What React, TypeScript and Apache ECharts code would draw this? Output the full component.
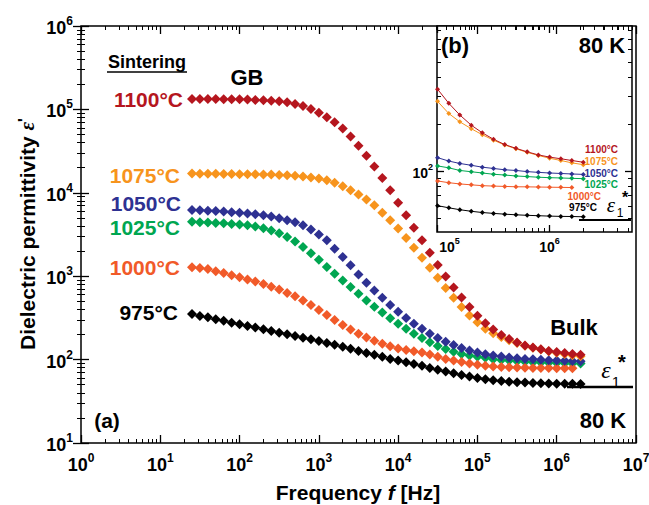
import React, { useEffect, useRef } from 'react';
import * as echarts from 'echarts';

// Frequencies (Hz), 10 points per decade
const freqHz = [
  25.1, 31.6, 39.8, 50.1, 63.1, 79.4,
  100, 126, 158, 200, 251, 316, 398, 501, 631, 794,
  1000, 1260, 1580, 2000, 2510, 3160, 3980, 5010, 6310, 7940,
  10000, 12600, 15800, 20000, 25100, 31600, 39800, 50100, 63100, 79400,
  100000, 126000, 158000, 200000, 251000, 316000, 398000, 501000, 631000, 794000,
  1000000, 1260000, 1580000, 2000000,
];

const eps1100 = [
  133000, 133000, 133000, 133000, 132000, 132000, 132000, 131000, 130000, 129000,
  127000, 125000, 122000, 116000, 110000, 101000, 91200, 80400, 70000, 58900,
  47300, 36700, 27900, 20700, 15000, 10700, 7590, 5370, 3800, 2690,
  1910, 1360, 989, 733, 556, 427, 335, 272, 229, 197,
  176, 160, 148, 140, 133, 127, 123, 120, 117, 114,
];
const eps1075 = [
  17000, 16900, 16900, 16900, 16800, 16800, 16700, 16700, 16700, 16600,
  16600, 16400, 16200, 16000, 15700, 15300, 14800, 14100, 13200, 12000,
  10700, 9550, 8320, 7080, 5750, 4680, 3720, 2880, 2190, 1660,
  1260, 955, 724, 550, 427, 339, 280, 234, 207, 187,
  171, 158, 147, 139, 132, 126, 121, 117, 113, 110,
];
const eps1050 = [
  6240, 6170, 6100, 6030, 5960, 5860, 5750, 5650, 5520, 5370,
  5190, 4950, 4700, 4420, 4070, 3630, 3160, 2690, 2140, 1700,
  1350, 1050, 832, 676, 550, 452, 376, 316, 269, 234,
  204, 182, 164, 150, 138, 129, 122, 116, 112, 109,
  106, 104, 102, 101, 99.3, 98.2, 97.3, 96.6, 95.9, 95.3,
];
const eps1025 = [
  4500, 4450, 4400, 4350, 4300, 4240, 4170, 4070, 3940, 3760,
  3530, 3270, 2950, 2600, 2240, 1880, 1570, 1290, 1070, 891,
  741, 617, 513, 431, 367, 313, 269, 234, 204, 182,
  162, 146, 134, 124, 117, 112, 108, 105, 101, 99.1,
  97.3, 95.5, 94.4, 93.1, 92.3, 91.4, 90.8, 90.4, 89.9, 89.5,
];
const eps1000 = [
  1280, 1250, 1220, 1150, 1090, 1030, 973, 916, 861, 804,
  748, 692, 631, 575, 513, 452, 394, 343, 299, 260,
  229, 204, 184, 168, 155, 145, 136, 130, 126, 122,
  115, 108, 102, 97.7, 93.3, 89.5, 86.5, 84.3, 82.8, 81.7,
  80.7, 80.2, 79.8, 79.4, 79.3, 79.1, 78.9, 78.7, 78.5,
];
const eps975 = [
  352, 333, 321, 304, 292, 277, 265, 253, 242, 231,
  220, 210, 201, 192, 183, 175, 167, 158, 151, 143,
  135, 127, 120, 114, 108, 102, 97.3, 92.7, 88.3, 84.3,
  79.4, 75.5, 71.8, 68.4, 65.3, 62.5, 60.1, 58.2, 56.6, 55.3,
  54.3, 53.6, 53.0, 52.5, 52.1, 51.8, 51.5, 51.3, 51.2, 51.0,
];

const sinteringLabels = ['1100°C', '1075°C', '1050°C', '1025°C', '1000°C', '975°C'];
const sinteringColors = ['#B5161E', '#F7941D', '#2E3192', '#00A651', '#F15A29', '#000000'];
const sinteringValues = [eps1100, eps1075, eps1050, eps1025, eps1000, eps975];
// draw order (last on top)
const drawOrder = [5, 3, 4, 2, 1, 0];

const mainXDecades = [0, 1, 2, 3, 4, 5, 6, 7];
const mainYDecades = [1, 2, 3, 4, 5, 6];
const insetXDecades = [5, 6];
const insetYDecades = [2];
const minorMultipliers = [2, 3, 4, 5, 6, 7, 8, 9];
const insetStartIndex = 36; // 1e5 Hz

const SANS = '"Liberation Sans", Arial, Helvetica, sans-serif';
const SERIF = '"Liberation Serif", "DejaVu Serif", serif';

const lg = (v: number) => Math.log10(v);

function minorTicks(decades: number[], lo: number, hi: number) {
  const out: number[] = [];
  for (let d = Math.floor(lo); d <= Math.ceil(hi); d++) {
    for (const m of minorMultipliers) {
      const t = d + lg(m);
      if (t > lo && t < hi) out.push(t);
    }
  }
  return out;
}

const supRich = (big: number, small: number) => ({
  b: { fontSize: big, fontWeight: 'bold', fontFamily: SANS, color: '#000', verticalAlign: 'bottom', lineHeight: big + 4 },
  b5: { fontSize: big, fontWeight: 'bold', fontFamily: SANS, color: '#000', verticalAlign: 'bottom', lineHeight: big + 4, padding: [0, 0, 0, 24] },
  s: { fontSize: small, fontWeight: 'bold', fontFamily: SANS, color: '#000', verticalAlign: 'top' },
});

export default function App() {
  const ref = useRef<HTMLDivElement>(null);
  useEffect(() => {
    if (!ref.current) return;
    const chart = echarts.init(ref.current, null, { renderer: 'svg' });

    const mainX = [0, 7];
    const mainY = [1, 6];
    const inX = [4.995, 6.736];
    const inY = [1.61, 2.93];

    const tickMajor = (len: number) => ({ show: true, inside: true, length: len, lineStyle: { color: '#000', width: 1.3 } });
    const tickMinor = (len: number, values: number[]) => ({ show: true, inside: true, length: len, customValues: values, lineStyle: { color: '#000', width: 1 } });
    const noLabel = { show: false };
    const base = { type: 'value', axisLine: { show: false }, splitLine: { show: false } };

    const mainXMinor = minorTicks(mainXDecades, mainX[0], mainX[1]);
    const mainYMinor = minorTicks(mainYDecades, mainY[0], mainY[1]);
    const inXMinor = minorTicks(insetXDecades, inX[0], inX[1]);
    const inYMinor = minorTicks(insetYDecades, inY[0], inY[1]);

    const xAxis: any[] = [
      { ...base, gridIndex: 0, position: 'bottom', min: mainX[0], max: mainX[1], interval: 1,
        axisTick: tickMajor(8),
        axisLabel: { margin: 9, formatter: (v: number) => `{b|10}{s|${Math.round(v)}}`, rich: supRich(18, 12) } },
      { ...base, gridIndex: 0, position: 'bottom', min: mainX[0], max: mainX[1], axisTick: tickMinor(4, mainXMinor), axisLabel: noLabel },
      { ...base, gridIndex: 0, position: 'top', min: mainX[0], max: mainX[1], interval: 1, axisTick: tickMajor(8), axisLabel: noLabel },
      { ...base, gridIndex: 0, position: 'top', min: mainX[0], max: mainX[1], axisTick: tickMinor(4, mainXMinor), axisLabel: noLabel },
      { ...base, gridIndex: 1, position: 'bottom', min: inX[0], max: inX[1],
        axisTick: { ...tickMajor(7), customValues: insetXDecades },
        axisLabel: { customValues: insetXDecades, margin: 4,
          formatter: (v: number) => (Math.round(v) === 5 ? `{b5|10}{s|5}` : `{b|10}{s|${Math.round(v)}}`),
          rich: supRich(14, 9) } },
      { ...base, gridIndex: 1, position: 'bottom', min: inX[0], max: inX[1], axisTick: tickMinor(4, inXMinor), axisLabel: noLabel },
      { ...base, gridIndex: 1, position: 'top', min: inX[0], max: inX[1], axisTick: { ...tickMajor(7), customValues: insetXDecades }, axisLabel: noLabel },
      { ...base, gridIndex: 1, position: 'top', min: inX[0], max: inX[1], axisTick: tickMinor(4, inXMinor), axisLabel: noLabel },
    ];
    const yAxis: any[] = [
      { ...base, gridIndex: 0, position: 'left', min: mainY[0], max: mainY[1], interval: 1,
        axisTick: tickMajor(8),
        axisLabel: { margin: 8, formatter: (v: number) => `{b|10}{s|${Math.round(v)}}`, rich: supRich(18, 12) } },
      { ...base, gridIndex: 0, position: 'left', min: mainY[0], max: mainY[1], axisTick: tickMinor(4, mainYMinor), axisLabel: noLabel },
      { ...base, gridIndex: 0, position: 'right', min: mainY[0], max: mainY[1], interval: 1, axisTick: tickMajor(8), axisLabel: noLabel },
      { ...base, gridIndex: 0, position: 'right', min: mainY[0], max: mainY[1], axisTick: tickMinor(4, mainYMinor), axisLabel: noLabel },
      { ...base, gridIndex: 1, position: 'left', min: inY[0], max: inY[1],
        axisTick: { ...tickMajor(7), customValues: insetYDecades },
        axisLabel: { customValues: insetYDecades, margin: 4, formatter: (v: number) => `{b|10}{s|${Math.round(v)}}`, rich: supRich(14, 9) } },
      { ...base, gridIndex: 1, position: 'left', min: inY[0], max: inY[1], axisTick: tickMinor(4, inYMinor), axisLabel: noLabel },
      { ...base, gridIndex: 1, position: 'right', min: inY[0], max: inY[1], axisTick: { ...tickMajor(7), customValues: insetYDecades }, axisLabel: noLabel },
      { ...base, gridIndex: 1, position: 'right', min: inY[0], max: inY[1], axisTick: tickMinor(4, inYMinor), axisLabel: noLabel },
    ];

    const series: any[] = [];
    drawOrder.forEach((i) => {
      series.push({
        type: 'scatter', name: sinteringLabels[i], xAxisIndex: 0, yAxisIndex: 0,
        symbol: 'diamond', symbolSize: 10,
        itemStyle: { color: sinteringColors[i], opacity: 1 },
        data: sinteringValues[i].map((v, k) => [lg(freqHz[k]), lg(v)]),
      });
    });
    drawOrder.forEach((i) => {
      series.push({
        type: 'line', name: sinteringLabels[i] + ' inset', xAxisIndex: 4, yAxisIndex: 4,
        symbol: 'diamond', symbolSize: 5, showSymbol: true,
        lineStyle: { color: sinteringColors[i], width: 1 },
        itemStyle: { color: sinteringColors[i], opacity: 1 },
        data: sinteringValues[i].slice(insetStartIndex).map((v, k) => [lg(freqHz[k + insetStartIndex]), lg(v)]),
      });
    });

    const txt = (x: number, y: number, text: string, opts: any = {}) => ({
      type: 'text', x, y, z: 100,
      style: {
        text, fill: opts.fill || '#000',
        font: `${opts.italic ? 'italic ' : ''}${opts.weight || 'bold'} ${opts.size || 21}px ${opts.family || SANS}`,
        align: opts.align || 'center', verticalAlign: 'middle',
      },
    });

    const mainLabelY = [99, 175, 203, 227, 267, 312];
    const mainLabelX = [183, 180, 181, 180, 180, 178];
    const insetLabelY = [149, 161, 173, 184, 196, 207];
    const insetLabelX = [618, 618, 618, 618, 601, 597];

    const graphic: any[] = [
      {
        type: 'text', x: 27, y: 234, rotation: Math.PI / 2, z: 100,
        style: {
          text: '{t|Dielectric permittivity }{e|ε}{p|\'}', align: 'center', verticalAlign: 'middle',
          rich: {
            t: { font: `bold 21px ${SANS}`, fill: '#000' },
            e: { font: `italic bold 21px ${SERIF}`, fill: '#000' },
            p: { font: `bold 16px ${SANS}`, fill: '#000', verticalAlign: 'top' },
          },
        },
      },
      {
        type: 'text', x: 358, y: 492, z: 100,
        style: {
          text: '{t|Frequency }{f|f}{t| [Hz]}', align: 'center', verticalAlign: 'middle',
          rich: {
            t: { font: `bold 21px ${SANS}`, fill: '#000' },
            f: { font: `italic bold 21px ${SANS}`, fill: '#000' },
          },
        },
      },
      txt(147, 62, 'Sintering', { size: 18 }),
      { type: 'line', z: 100, shape: { x1: 107, y1: 72, x2: 187, y2: 72 }, style: { stroke: '#000', lineWidth: 1.5 } },
      txt(247, 77, 'GB', { size: 22 }),
      txt(574, 327, 'Bulk', { size: 22 }),
      txt(603, 420, '80 K', { size: 22 }),
      txt(107, 420, '(a)', { size: 21 }),
      txt(606, 370, 'ε', { size: 24, italic: true, family: SERIF, weight: 'normal' }),
      txt(616, 381, '1', { size: 15, weight: 'normal' }),
      txt(622, 362, '*', { size: 20, weight: 'bold' }),
      { type: 'line', z: 100, shape: { x1: 567, y1: 387, x2: 633, y2: 387 }, style: { stroke: '#000', lineWidth: 2.5 } },
      txt(455, 45, '(b)', { size: 22 }),
      txt(602, 45, '80 K', { size: 22 }),
      txt(611, 205, 'ε', { size: 21, italic: true, family: SERIF, weight: 'normal' }),
      txt(620, 213, '1', { size: 12, weight: 'normal' }),
      txt(625, 197, '*', { size: 16, weight: 'bold' }),
      { type: 'line', z: 100, shape: { x1: 579, y1: 220, x2: 631, y2: 220 }, style: { stroke: '#000', lineWidth: 2 } },
    ];
    sinteringLabels.forEach((lab, i) => {
      graphic.push(txt(mainLabelX[i], mainLabelY[i], lab, { size: 21, fill: sinteringColors[i], align: 'right' }));
      graphic.push(txt(insetLabelX[i], insetLabelY[i], lab, { size: 10, fill: sinteringColors[i], align: 'right' }));
    });

    chart.setOption({
      animation: false,
      backgroundColor: '#fff',
      grid: [
        { left: 81, top: 26, width: 555, height: 417, show: true, borderColor: '#000', borderWidth: 1.5, backgroundColor: 'transparent', containLabel: false, outerBoundsMode: 'none' },
        { left: 437, top: 26, width: 195, height: 206, show: true, borderColor: '#000', borderWidth: 1.5, backgroundColor: '#fff', containLabel: false, outerBoundsMode: 'none' },
      ],
      xAxis,
      yAxis,
      series,
      graphic,
    });
    return () => chart.dispose();
  }, []);
  return <div ref={ref} style={{ position: 'absolute', left: 0, top: 0, width: 649, height: 505 }} />;
}
